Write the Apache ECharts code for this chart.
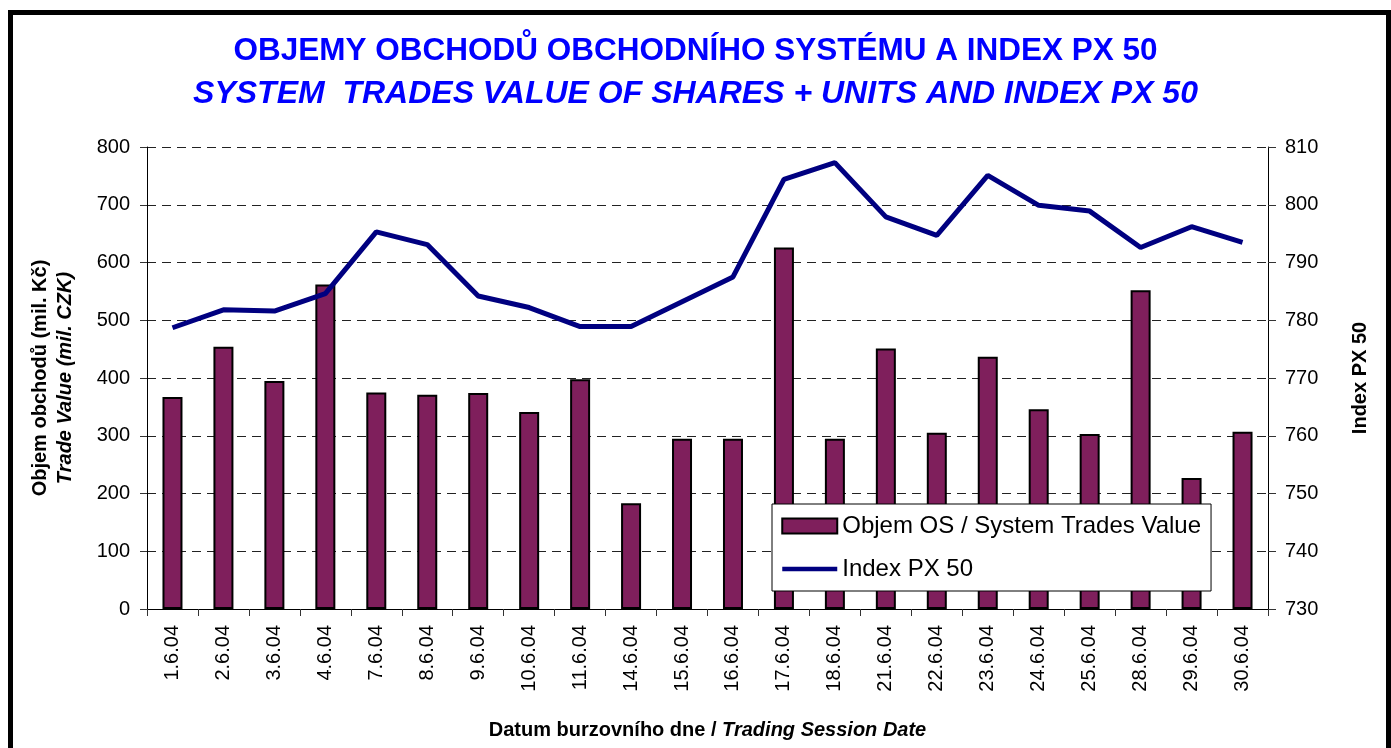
<!DOCTYPE html>
<html>
<head>
<meta charset="utf-8">
<script src="https://cdn.jsdelivr.net/npm/echarts@6/dist/echarts.min.js"></script>
<style>
  html, body { margin: 0; padding: 0; background: #fff; overflow: hidden; }
  #chart { width: 1391px; height: 748px; }
  .frame {
    position: absolute;
    left: 8px;
    top: 10px;
    width: 1373px;
    height: 800px;
    border: 5px solid #000;
    pointer-events: none;
  }
</style>
</head>
<body>
<div id="chart"></div>
<div class="frame"></div>
<script>
  var dates = ['1.6.04', '2.6.04', '3.6.04', '4.6.04', '7.6.04', '8.6.04', '9.6.04', '10.6.04', '11.6.04', '14.6.04', '15.6.04',
    '16.6.04', '17.6.04', '18.6.04', '21.6.04', '22.6.04', '23.6.04', '24.6.04', '25.6.04', '28.6.04', '29.6.04', '30.6.04'];
  var tradeValue = [367, 454, 395, 562, 375, 371, 374, 341, 398, 183, 295, 295, 626, 295, 451, 305, 437, 346, 303, 552, 227, 307];
  var px50 = [778.7, 781.8, 781.6, 784.6, 795.3, 793.1, 784.2, 782.2, 778.9, 778.9, 783.2, 787.5, 804.4, 807.3, 797.9, 794.7,
    805.1, 799.9, 798.9, 792.6, 796.2, 793.5];

  var FONT = '"Liberation Sans", Arial, sans-serif';

  var chartDom = document.getElementById('chart');
  var myChart = echarts.init(chartDom);
  var option;

  option = {
    animation: false,
    textStyle: { fontFamily: FONT },
    title: [
      {
        text: 'OBJEMY OBCHODŮ OBCHODNÍHO SYSTÉMU A INDEX PX 50',
        left: 'center',
        top: 30,
        textStyle: { color: '#0000ff', fontSize: 31.5, fontWeight: 'bold', fontFamily: FONT }
      },
      {
        text: 'SYSTEM  TRADES VALUE OF SHARES + UNITS AND INDEX PX 50',
        left: 'center',
        top: 73,
        textStyle: { color: '#0000ff', fontSize: 32, fontWeight: 'bold', fontStyle: 'italic', fontFamily: FONT }
      }
    ],
    legend: {
      orient: 'vertical',
      left: 772,
      top: 504,
      padding: [10, 10, 10, 8],
      itemGap: 19,
      itemWidth: 55,
      itemHeight: 15,
      backgroundColor: '#fff',
      borderColor: '#000',
      borderWidth: 1,
      textStyle: { fontSize: 24, color: '#000', fontFamily: FONT },
      data: [
        { name: 'Objem OS / System Trades Value', icon: 'rect' },
        { name: 'Index PX 50', itemStyle: { opacity: 0 }, lineStyle: { width: 4.5, color: '#000080' } }
      ]
    },
    grid: {
      left: 147,
      right: 123,
      top: 147,
      bottom: 139
    },
    xAxis: {
      type: 'category',
      data: dates,
      boundaryGap: true,
      axisLine: { lineStyle: { color: '#000', width: 1 } },
      axisTick: { show: true, length: 7, lineStyle: { color: '#333' } },
      axisLabel: { rotate: 90, fontSize: 20, color: '#000', margin: 16, interval: 0 },
      name: '{a|Datum burzovního dne / }{b|Trading Session Date}',
      nameLocation: 'middle',
      nameGap: 111,
      nameTextStyle: {
        rich: {
          a: { fontSize: 20, fontWeight: 'bold', color: '#000', fontFamily: FONT },
          b: { fontSize: 20, fontWeight: 'bold', fontStyle: 'italic', color: '#000', fontFamily: FONT }
        }
      }
    },
    yAxis: [
      {
        type: 'value',
        min: 0,
        max: 800,
        interval: 100,
        axisLine: { show: true, lineStyle: { color: '#000', width: 1 } },
        axisTick: { show: true, length: 7, lineStyle: { color: '#333' } },
        axisLabel: { fontSize: 20, color: '#000', margin: 17 },
        splitLine: { show: true, lineStyle: { color: '#222', type: [9, 6], width: 1 } },
        name: '{a|Objem obchodů (mil. Kč)}\n{b|Trade Value (mil. CZK)}',
        nameLocation: 'middle',
        nameRotate: 90,
        nameGap: 69,
        nameTextStyle: {
          rich: {
            a: { fontSize: 20, fontWeight: 'bold', color: '#000', lineHeight: 25, fontFamily: FONT },
            b: { fontSize: 20, fontWeight: 'bold', fontStyle: 'italic', color: '#000', lineHeight: 25, fontFamily: FONT }
          }
        }
      },
      {
        type: 'value',
        min: 730,
        max: 810,
        interval: 10,
        position: 'right',
        axisLine: { show: true, lineStyle: { color: '#000', width: 1 } },
        axisTick: { show: true, length: 8, lineStyle: { color: '#333' } },
        axisLabel: { fontSize: 20, color: '#000', margin: 17 },
        splitLine: { show: false },
        name: 'Index PX 50',
        nameLocation: 'middle',
        nameRotate: 90,
        nameGap: 82,
        nameTextStyle: { fontSize: 20, fontWeight: 'bold', color: '#000', fontFamily: FONT }
      }
    ],
    series: [
      {
        name: 'Objem OS / System Trades Value',
        type: 'bar',
        yAxisIndex: 0,
        barWidth: 20,
        itemStyle: {
          color: '#7f1f5c',
          borderColor: '#000',
          borderWidth: 2
        },
        data: tradeValue
      },
      {
        name: 'Index PX 50',
        type: 'line',
        yAxisIndex: 1,
        symbol: 'none',
        lineStyle: { color: '#000080', width: 5 },
        itemStyle: { color: '#000080' },
        data: px50
      }
    ]
  };
  option && myChart.setOption(option);
</script>
</body>
</html>
